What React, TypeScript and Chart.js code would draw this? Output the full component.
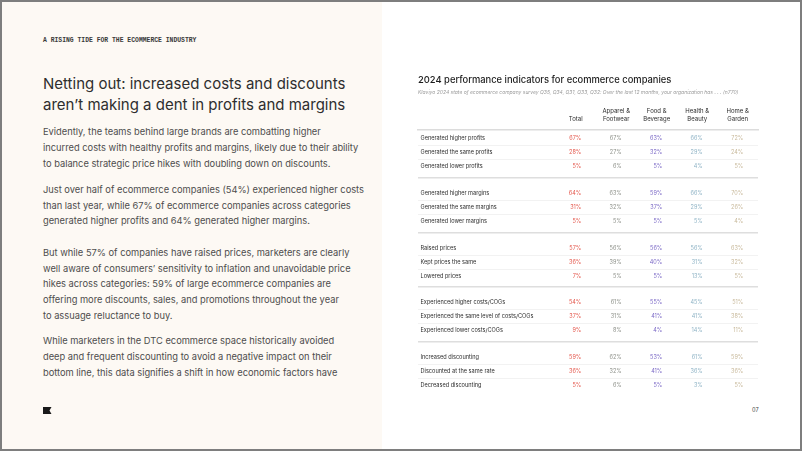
import React, { useEffect, useRef } from 'react';
import { Chart, registerables } from 'chart.js';

Chart.register(...registerables);

// ---------- data ----------
const chartTitle = '2024 performance indicators for ecommerce companies';
const chartSubtitle =
  'Klaviyo 2024 state of ecommerce company survey Q35, Q34, Q31, Q33, Q32: Over the last 12 months, your organization has . . . (n770)';

const columnLabels: (string | string[])[] = [
  'Total',
  ['Apparel &', 'Footwear'],
  ['Food &', 'Beverage'],
  ['Health &', 'Beauty'],
  ['Home &', 'Garden'],
];

const profitRows = ['Generated higher profits', 'Generated the same profits', 'Generated lower profits'];
const marginRows = ['Generated higher margins', 'Generated the same margins', 'Generated lower margins'];
const priceRows = ['Raised prices', 'Kept prices the same', 'Lowered prices'];
const costRows = [
  'Experienced higher costs/COGs',
  'Experienced the same level of costs/COGs',
  'Experienced lower costs/COGs',
];
const discountRows = ['Increased discounting', 'Discounted at the same rate', 'Decreased discounting'];
const rowGroups = [profitRows, marginRows, priceRows, costRows, discountRows];

const totalValues = [67, 28, 5, 64, 31, 5, 57, 36, 7, 54, 37, 9, 59, 36, 5];
const apparelValues = [67, 27, 6, 63, 32, 5, 56, 39, 5, 61, 31, 8, 62, 32, 6];
const foodValues = [63, 32, 5, 59, 37, 5, 56, 40, 5, 55, 41, 4, 53, 41, 5];
const healthValues = [66, 29, 4, 66, 29, 5, 56, 31, 13, 45, 41, 14, 61, 36, 3];
const homeValues = [72, 24, 5, 70, 26, 4, 63, 32, 5, 51, 38, 11, 59, 36, 5];
const columnValues = [totalValues, apparelValues, foodValues, healthValues, homeValues];

// ---------- styles ----------
const columnColors = ['#e4574c', '#8e918a', '#7b69c6', '#90b4c6', '#c8b99b'];
const FONT = 'Inter, "Noto Sans", sans-serif';
const GROUP_STEP = 3.9;

const rowLabels = rowGroups.flat();
const rowPositions = rowGroups.flatMap((g, gi) => g.map((_, ri) => gi * GROUP_STEP + ri));
const thinLines = rowGroups.flatMap((_, gi) => [gi * GROUP_STEP + 0.5, gi * GROUP_STEP + 1.5]);
const thickLines = rowGroups.slice(0, -1).map((_, gi) => gi * GROUP_STEP + 2.8);
const isThick = (v: number) => thickLines.some((t) => Math.abs(t - v) < 1e-6);

const tablePlugin = {
  id: 'tableText',
  afterDatasetsDraw(chart: any) {
    const { ctx, chartArea, scales } = chart;
    ctx.save();
    ctx.textBaseline = 'middle';
    ctx.font = `5.6px ${FONT}`;
    ctx.fillStyle = '#2c2c2c';
    ctx.textAlign = 'left';
    rowLabels.forEach((lab, i) => {
      ctx.fillText(lab, chartArea.left + 2.5, scales.y.getPixelForValue(rowPositions[i]));
    });
    ctx.textAlign = 'right';
    ctx.font = `5.5px ${FONT}`;
    chart.data.datasets.forEach((ds: any, di: number) => {
      const meta = chart.getDatasetMeta(di);
      ctx.fillStyle = columnColors[di];
      meta.data.forEach((el: any, i: number) => {
        ctx.fillText(`${ds.data[i].v}%`, el.x + 5.5, el.y);
      });
    });
    ctx.restore();
  },
};

function TableChart() {
  const ref = useRef<HTMLCanvasElement | null>(null);
  useEffect(() => {
    if (!ref.current) return;
    const datasets = columnValues.map((vals, ci) => ({
      label: typeof columnLabels[ci] === 'string' ? (columnLabels[ci] as string) : (columnLabels[ci] as string[]).join(' '),
      data: vals.map((v, i) => ({ x: ci + 1, y: rowPositions[i], v })),
      pointRadius: 0,
      pointHoverRadius: 0,
    }));
    const chart = new Chart(ref.current, {
      type: 'scatter',
      data: { datasets } as any,
      options: {
        animation: false,
        responsive: false,
        maintainAspectRatio: false,
        events: [],
        layout: { padding: { left: 35, right: 42, top: 0, bottom: 54 } },
        plugins: {
          legend: { display: false },
          tooltip: { enabled: false },
          title: {
            display: true,
            text: chartTitle,
            align: 'start',
            color: '#1d1d1d',
            font: { family: FONT, size: 9.4, weight: '500', lineHeight: 1.2 },
            padding: { top: 74.8, bottom: 0 },
          },
          subtitle: {
            display: true,
            text: chartSubtitle,
            align: 'start',
            color: '#9b9b9b',
            font: { family: FONT, size: 5.0, style: 'italic', lineHeight: 1.2 },
            padding: { top: 3.3, bottom: 0 },
          },
        },
        scales: {
          x: {
            type: 'linear',
            position: 'top',
            min: -2.894,
            max: 5.501,
            afterBuildTicks: (s: any) => {
              s.ticks = columnLabels.map((_, i) => ({ value: i + 1 }));
            },
            afterFit: (s: any) => {
              s.height = 34.6;
            },
            grid: { display: false, drawTicks: false },
            border: { display: true, color: '#dcdcdc', width: 1.5 },
            ticks: {
              padding: 7,
              maxRotation: 0,
              autoSkip: false,
              color: '#2c2c2c',
              font: { family: FONT, size: 6, lineHeight: 1.27 },
              callback: (_v: any, i: number) => columnLabels[i] as any,
            },
          },
          y: {
            type: 'linear',
            reverse: true,
            min: -0.621,
            max: 18.286,
            afterBuildTicks: (s: any) => {
              s.ticks = [...thinLines, ...thickLines].sort((a, b) => a - b).map((v) => ({ value: v }));
            },
            afterFit: (s: any) => {
              s.width = 0;
            },
            ticks: { display: false },
            border: { display: false },
            grid: {
              drawTicks: false,
              color: (c: any) => (c.tick && isThick(c.tick.value) ? '#dedede' : '#efefef'),
              lineWidth: (c: any) => (c.tick && isThick(c.tick.value) ? 1.6 : 0.8),
            },
          },
        },
      } as any,
      plugins: [tablePlugin],
    });
    return () => chart.destroy();
  }, []);
  return (
    <canvas
      ref={ref}
      width={417}
      height={449}
      style={{ position: 'absolute', left: 383, top: 0, width: 417, height: 449, display: 'block' }}
    />
  );
}

const bodyStyle: React.CSSProperties = {
  position: 'absolute',
  left: 43,
  fontFamily: FONT,
  fontSize: 9.3,
  lineHeight: '15.7px',
  color: '#4d4d4d',
  whiteSpace: 'nowrap',
};

export default function App() {
  return (
    <div
      style={{
        position: 'fixed',
        left: 0,
        top: 0,
        width: 802,
        height: 451,
        background: '#ffffff',
        overflow: 'hidden',
      }}
    >
      <div style={{ position: 'absolute', left: 0, top: 0, width: 382, height: 451, background: '#fdf9f4' }} />
      <div
        style={{
          position: 'absolute',
          left: 43,
          top: 36,
          fontFamily: '"Liberation Mono", "DejaVu Sans Mono", monospace',
          fontSize: 6.4,
          lineHeight: '10px',
          fontWeight: 700,
          color: '#3a3a3a',
          whiteSpace: 'nowrap',
        }}
      >
        A RISING TIDE FOR THE ECOMMERCE INDUSTRY
      </div>
      <div
        style={{
          position: 'absolute',
          left: 43,
          top: 74.2,
          fontFamily: FONT,
          fontSize: 15,
          lineHeight: '20.6px',
          color: '#2e2e2e',
          whiteSpace: 'nowrap',
        }}
      >
        Netting out: increased costs and discounts
        <br />
        aren’t making a dent in profits and margins
      </div>
      <div style={{ ...bodyStyle, top: 124.3 }}>
        Evidently, the teams behind large brands are combatting higher
        <br />
        incurred costs with healthy profits and margins, likely due to their ability
        <br />
        to balance strategic price hikes with doubling down on discounts.
      </div>
      <div style={{ ...bodyStyle, top: 181.8 }}>
        Just over half of ecommerce companies (54%) experienced higher costs
        <br />
        than last year, while 67% of ecommerce companies across categories
        <br />
        generated higher profits and 64% generated higher margins.
      </div>
      <div style={{ ...bodyStyle, top: 244.8 }}>
        But while 57% of companies have raised prices, marketers are clearly
        <br />
        well aware of consumers’ sensitivity to inflation and unavoidable price
        <br />
        hikes across categories: 59% of large ecommerce companies are
        <br />
        offering more discounts, sales, and promotions throughout the year
        <br />
        to assuage reluctance to buy.
      </div>
      <div style={{ ...bodyStyle, top: 333.3 }}>
        While marketers in the DTC ecommerce space historically avoided
        <br />
        deep and frequent discounting to avoid a negative impact on their
        <br />
        bottom line, this data signifies a shift in how economic factors have
      </div>
      <svg
        width={9}
        height={7}
        viewBox="0 0 9 7"
        style={{ position: 'absolute', left: 43, top: 406.5, display: 'block' }}
      >
        <polygon points="0,0 8.5,0 6.5,3.5 8.5,7 0,7" fill="#1a1a1a" />
      </svg>
      <div
        style={{
          position: 'absolute',
          left: 752,
          top: 406,
          fontFamily: FONT,
          fontSize: 5.6,
          lineHeight: '8px',
          color: '#444',
          whiteSpace: 'nowrap',
        }}
      >
        07
      </div>
      <TableChart />
      <div
        style={{
          position: 'absolute',
          left: 0,
          top: 0,
          width: 802,
          height: 451,
          boxSizing: 'border-box',
          border: '2px solid #7e7e7e',
          pointerEvents: 'none',
        }}
      />
    </div>
  );
}
